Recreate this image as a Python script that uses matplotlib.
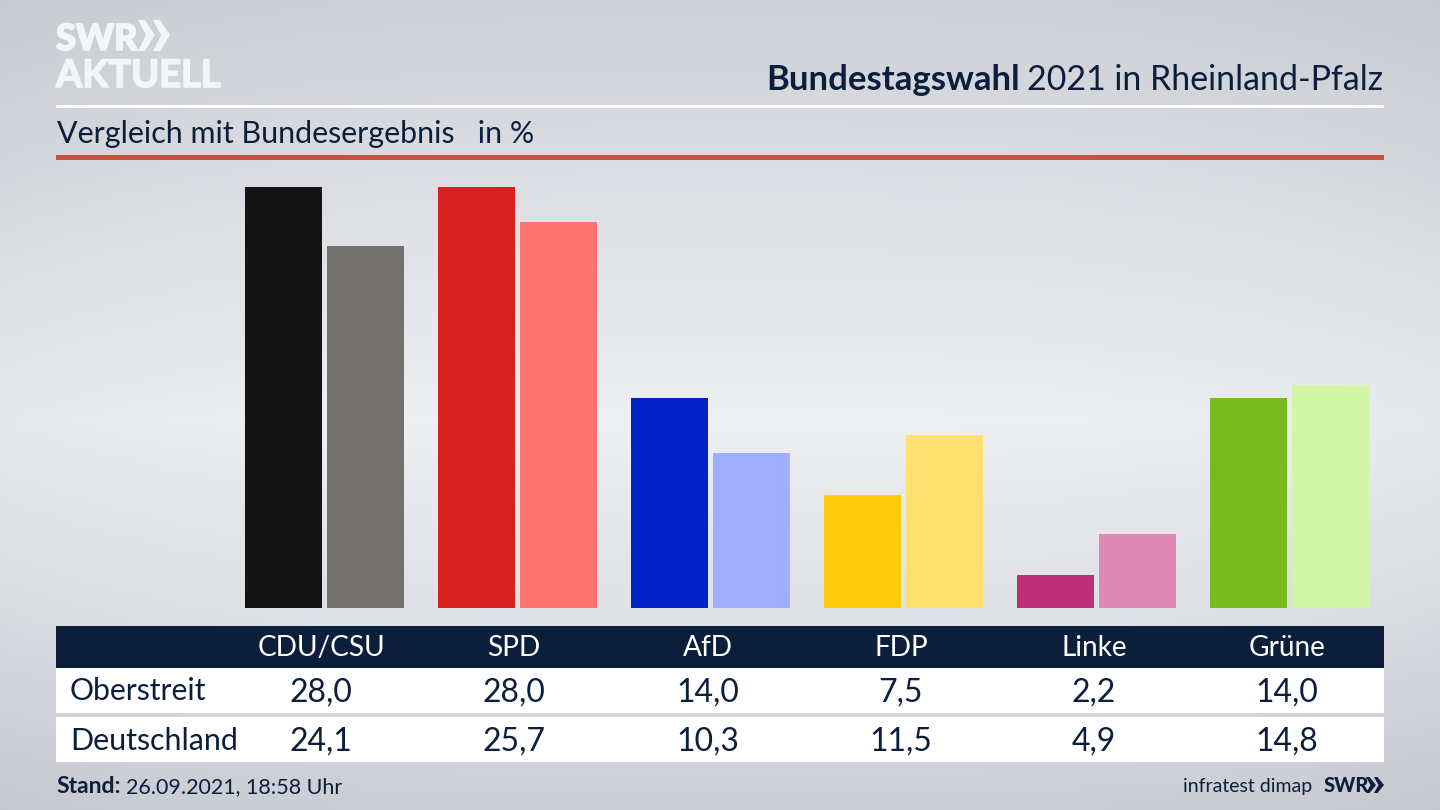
import matplotlib
matplotlib.use('Agg')
import matplotlib.pyplot as plt
import matplotlib.patheffects as pe
import numpy as np
from matplotlib.colors import LinearSegmentedColormap
from matplotlib.patches import Rectangle, Polygon

W, H = 1440, 810

parties = ['CDU/CSU', 'SPD', 'AfD', 'FDP', 'Linke', 'Grüne']
oberstreit = [28.0, 28.0, 14.0, 7.5, 2.2, 14.0]
deutschland = [24.1, 25.7, 10.3, 11.5, 4.9, 14.8]
colors_ort = ['#141414', '#d8201f', '#0022c4', '#ffcb0a', '#bd2f78', '#77bc1c']
colors_bund = ['#72716e', '#ff7470', '#a0aeff', '#ffe070', '#e088b6', '#d2f6a6']

navy = '#0b1f3c'
logo = '#f4f5f7'
plt.rcParams['font.family'] = ['Lato', 'DejaVu Sans']


def fmt(v):
    return f'{v:.1f}'.replace('.', ',')


fig = plt.figure(figsize=(W / 100, H / 100), dpi=100)

# background + everything in pixel coords
bg = fig.add_axes([0, 0, 1, 1])
bg.set_xlim(0, W)
bg.set_ylim(H, 0)
bg.axis('off')

stops = LinearSegmentedColormap.from_list(
    'bg', [(0, '#ced1d7'), (0.22, '#dcdee3'), (0.52, '#eeeff1'), (0.78, '#dfe0e5'), (1, '#cccfd6')])
ramp_y = np.linspace(0, 1, 200)
img = np.repeat(stops(ramp_y)[:, None, :], 300, axis=1)
ramp_x = np.linspace(-1, 1, 300)
img[:, :, :3] = img[:, :, :3] - (np.abs(ramp_x) ** 3)[None, :, None] * 0.025
bg.imshow(np.clip(img, 0, 1), extent=(0, W, H, 0), aspect='auto', zorder=0)

# header rules
bg.add_patch(Rectangle((56, 105), 1328, 2.5, color='white', zorder=2, lw=0))
bg.add_patch(Rectangle((56, 155), 1328, 5, color='#c9503c', zorder=2, lw=0))

# logo
thick = [pe.withStroke(linewidth=1.2, foreground=logo)]
bg.text(56, 50, 'SWR', color=logo, fontsize=26, fontweight='black', va='baseline', zorder=3, path_effects=thick)
bg.text(56, 87, 'AKTUELL', color=logo, fontsize=27.3, fontweight='bold', va='baseline', zorder=3, path_effects=thick)
for x0 in (138, 153):
    bg.add_patch(Polygon([(x0, 20), (x0 + 7, 20), (x0 + 17, 35), (x0 + 7, 51), (x0, 51), (x0 + 8, 35)],
                         color=logo, lw=0, zorder=3))

# titles
bg.text(1383, 90, '2021 in Rheinland-Pfalz', color=navy, fontsize=24.4, ha='right', va='baseline', zorder=3)
bg.text(1020, 90, 'Bundestagswahl', color=navy, fontsize=25, fontweight='bold', ha='right', va='baseline', zorder=3)
bg.text(57, 143, 'Vergleich mit Bundesergebnis   in %', color=navy, fontsize=21.9, va='baseline', zorder=3)

# table
bg.add_patch(Rectangle((56, 626), 1328, 42, color=navy, lw=0, zorder=2))
bg.add_patch(Rectangle((56, 668), 1328, 45, color='white', lw=0, zorder=2))
bg.add_patch(Rectangle((56, 717), 1328, 45, color='white', lw=0, zorder=2))
col_x = [321, 514, 708, 901, 1094, 1287]
for cx, p, a, b in zip(col_x, parties, oberstreit, deutschland):
    bg.text(cx, 656, p, color='white', fontsize=20.2, ha='center', va='baseline', zorder=3)
    bg.text(cx, 702, fmt(a), color=navy, fontsize=23, ha='center', va='baseline', zorder=3)
    bg.text(cx, 751, fmt(b), color=navy, fontsize=23, ha='center', va='baseline', zorder=3)
bg.text(70, 700, 'Oberstreit', color=navy, fontsize=21.7, va='baseline', zorder=3)
bg.text(70, 750, 'Deutschland', color=navy, fontsize=21.9, va='baseline', zorder=3)

# footer
bg.text(56, 793, 'Stand:', color=navy, fontsize=16.5, fontweight='bold', va='baseline', zorder=3)
bg.text(126, 793, '26.09.2021, 18:58 Uhr', color=navy, fontsize=15.5, va='baseline', zorder=3)
bg.text(1312, 792, 'infratest dimap', color=navy, fontsize=14, ha='right', va='baseline', zorder=3)
bg.text(1324, 792, 'SWR', color=navy, fontsize=14.5, fontweight='black', va='baseline', zorder=3)
for x0 in (1366, 1374):
    bg.add_patch(Polygon([(x0, 777), (x0 + 3.5, 777), (x0 + 10, 785), (x0 + 3.5, 793), (x0, 793), (x0 + 4.5, 785)],
                         color=navy, lw=0, zorder=3))

# bars
ax = fig.add_axes([245 / W, 1 - 608 / H, (1369 - 245) / W, (608 - 187) / H])
ax.patch.set_alpha(0)
ax.axis('off')
x = np.arange(len(parties))
bw = 76.5 / 193
off = 82 / 193
ax.bar(x - off / 2, oberstreit, bw, color=colors_ort)
ax.bar(x + off / 2, deutschland, bw, color=colors_bund)
ax.set_xlim(-off / 2 - bw / 2, x[-1] + off / 2 + bw / 2)
ax.set_ylim(0, 28)

fig.savefig('out.png', dpi=100)
